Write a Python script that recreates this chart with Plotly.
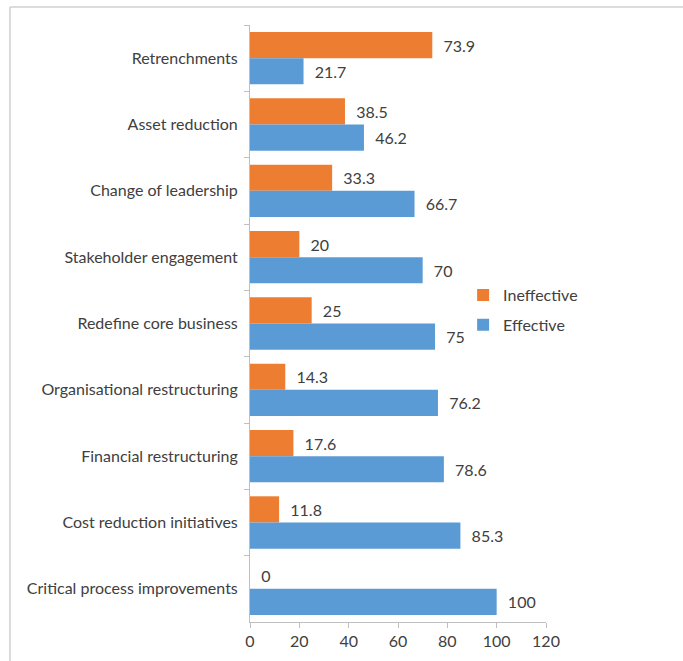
import plotly.graph_objects as go

categories = ["Retrenchments", "Asset reduction", "Change of leadership",
              "Stakeholder engagement", "Redefine core business",
              "Organisational restructuring", "Financial restructuring",
              "Cost reduction initiatives", "Critical process improvements"]
ineffective = [73.9, 38.5, 33.3, 20, 25, 14.3, 17.6, 11.8, 0]
effective = [21.7, 46.2, 66.7, 70, 75, 76.2, 78.6, 85.3, 100]
x_ticks = [0, 20, 40, 60, 80, 100, 120]

FONT = "Lato, Open Sans, sans-serif"
TXT = "#404040"
FS = 16

fig = go.Figure()
fig.add_trace(go.Bar(
    y=categories, x=ineffective, orientation="h", name="Ineffective",
    legendgroup="a",
    marker=dict(color="#ED7D31", line=dict(width=0)),
    text=[f"{v:g}" for v in ineffective], texttemplate="  %{text}",
    textposition="outside", textfont=dict(size=FS, color=TXT, family=FONT),
    cliponaxis=False,
))
fig.add_trace(go.Bar(
    y=categories, x=effective, orientation="h", name="Effective",
    legendgroup="b",
    marker=dict(color="#5B9BD5", line=dict(width=0)),
    text=[f"{v:g}" for v in effective], texttemplate="  %{text}",
    textposition="outside", textfont=dict(size=FS, color=TXT, family=FONT),
    cliponaxis=False,
))

fig.update_layout(
    width=683, height=661,
    margin=dict(l=250, r=137, t=25, b=39),
    paper_bgcolor="white", plot_bgcolor="white",
    barmode="group", bargap=0.21, bargroupgap=0,
    font=dict(family=FONT, size=FS, color=TXT),
    showlegend=True,
    legend=dict(x=0.72, y=0.576, xanchor="left", yanchor="top",
                font=dict(size=FS, color=TXT, family=FONT),
                traceorder="grouped", tracegroupgap=6,
                bgcolor="rgba(0,0,0,0)", itemwidth=30),
    xaxis=dict(range=[0, 120], tickvals=x_ticks, showgrid=False,
               zeroline=False, showline=True, linecolor="#BFBFBF",
               ticks="outside", ticklen=5, tickcolor="#BFBFBF",
               tickfont=dict(size=FS, color=TXT, family=FONT), fixedrange=True),
    yaxis=dict(autorange="reversed", type="category", showgrid=False,
               showline=True, linecolor="#BFBFBF", ticks="outside",
               tickson="boundaries", ticklen=5, tickcolor="#BFBFBF",
               ticklabelstandoff=8,
               tickfont=dict(size=FS, color=TXT, family=FONT)),
    shapes=[
        dict(type="line", xref="paper", yref="paper", x0=-0.811, x1=1.5,
             y0=1.030, y1=1.030, line=dict(color="#D0D0D0", width=1.5)),
        dict(type="line", xref="paper", yref="paper", x0=-0.811, x1=-0.811,
             y0=1.030, y1=-0.1, line=dict(color="#D0D0D0", width=1.5)),
    ],
)

fig.write_html("out.html")
